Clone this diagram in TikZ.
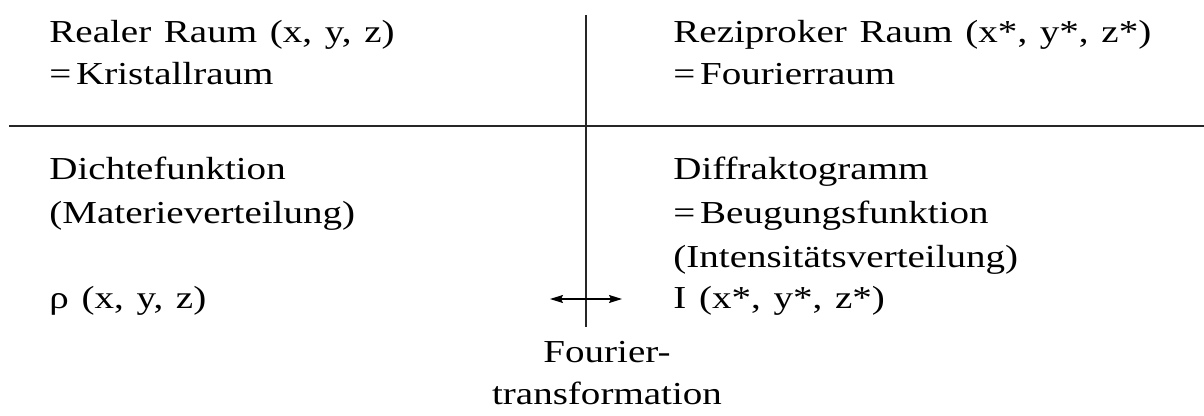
\documentclass[tikz,border=0pt]{standalone}
\usepackage{fontspec}
\setmainfont[FakeStretch=1.22,WordSpace=1.3]{Liberation Serif}
\usetikzlibrary{arrows.meta}
\newcommand{\eqsp}{=\hspace{0.15em}}
\tikzset{
  txt/.style={anchor=base west, inner sep=0pt, font=\fontsize{16pt}{22pt}\selectfont},
  ctxt/.style={anchor=base, inner sep=0pt, font=\fontsize{16pt}{22pt}\selectfont},
  rule/.style={line width=0.9pt, draw=black!85},
  dbl/.style={line width=0.7pt, {Stealth[length=6.5pt,width=4pt,inset=1pt]}-{Stealth[length=6.5pt,width=4pt,inset=1pt]}}
}
\begin{document}
\begin{tikzpicture}[x=0.5pt,y=-0.5pt]
\useasboundingbox (0,0) rectangle (1204,416);
% rules
\coordinate (hl) at (9,126);
\coordinate (hr) at (1204,126);
\coordinate (vt) at (586,15);
\coordinate (vb) at (586,327);
\draw[rule] (hl) -- (hr);
\draw[rule] (vt) -- (vb);
% left column
\node[txt] (l1) at (49,43) {Realer Raum (x, y, z)};
\node[txt] (l2) at (49,85) {\eqsp Kristallraum};
\node[txt] (l3) at (49,180) {Dichtefunktion};
\node[txt] (l4) at (49,224) {(Materieverteilung)};
\node[txt] (l5) at (49,309) {ρ (x, y, z)};
% right column
\node[txt] (r1) at (673,43) {Reziproker Raum (x*, y*, z*)};
\node[txt] (r2) at (673,85) {\eqsp Fourierraum};
\node[txt] (r3) at (673,180) {Diffraktogramm};
\node[txt] (r4) at (673,224) {\eqsp Beugungsfunktion};
\node[txt] (r5) at (673,268) {(Intensitätsverteilung)};
\node[txt] (r6) at (673,309) {I (x*, y*, z*)};
% arrow
\coordinate (al) at (550,299);
\coordinate (ar) at (622,299);
\draw[dbl] (al) -- (ar);
\node[ctxt] (f1) at (607,363) {Fourier-};
\node[ctxt] (f2) at (607,405) {transformation};
\end{tikzpicture}
\end{document}
